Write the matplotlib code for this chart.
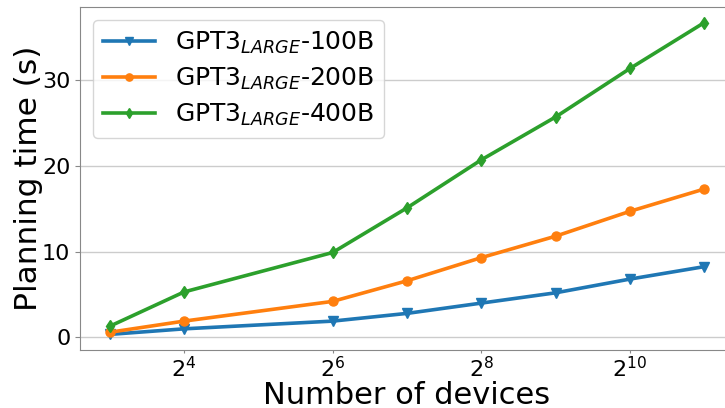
import matplotlib.pyplot as plt
from matplotlib.ticker import LogFormatterSciNotation, NullLocator

devices = [8, 16, 64, 128, 256, 512, 1024, 2048]
time_100b = [0.35, 1.0, 1.9, 2.8, 4.0, 5.2, 6.8, 8.25]
time_200b = [0.6, 1.9, 4.2, 6.6, 9.3, 11.8, 14.7, 17.3]
time_400b = [1.3, 5.3, 9.9, 15.1, 20.7, 25.7, 31.35, 36.7]
labels = [r'GPT3$_{LARGE}$-100B', r'GPT3$_{LARGE}$-200B', r'GPT3$_{LARGE}$-400B']
xticks = [16, 64, 256, 1024]

fig = plt.figure(figsize=(7.25, 4.08), dpi=100)
ax = fig.add_axes([80 / 725, 58 / 408, 654 / 725, 343 / 408])

ax.plot(devices, time_100b, marker='v', color='#1f77b4', lw=2.6, ms=6.5, label=labels[0])
ax.plot(devices, time_200b, marker='o', color='#ff7f0e', lw=2.6, ms=6.5, label=labels[1])
ax.plot(devices, time_400b, marker='d', color='#2ca02c', lw=2.6, ms=6.5, label=labels[2])

ax.set_xscale('log', base=2)
ax.set_xticks(xticks)
ax.xaxis.set_major_formatter(LogFormatterSciNotation(base=2))
ax.xaxis.set_minor_locator(NullLocator())
ax.set_yticks([0, 10, 20, 30])
ax.tick_params(labelsize=16, color='#888888')
ax.tick_params(axis='x', length=2, pad=2)
ax.grid(axis='y', color='#cccccc', lw=1)
ax.set_axisbelow(True)

for spine in ax.spines.values():
    spine.set_color('#888888')

ax.set_xlabel('Number of devices', fontsize=22, labelpad=0)
ax.set_ylabel('Planning time (s)', fontsize=22.5, labelpad=-1)
ax.legend(loc='upper left', fontsize=18, handlelength=2.1, markerscale=0.8,
          borderaxespad=0.5, labelspacing=0.4)

fig.savefig('out.png', dpi=100)
